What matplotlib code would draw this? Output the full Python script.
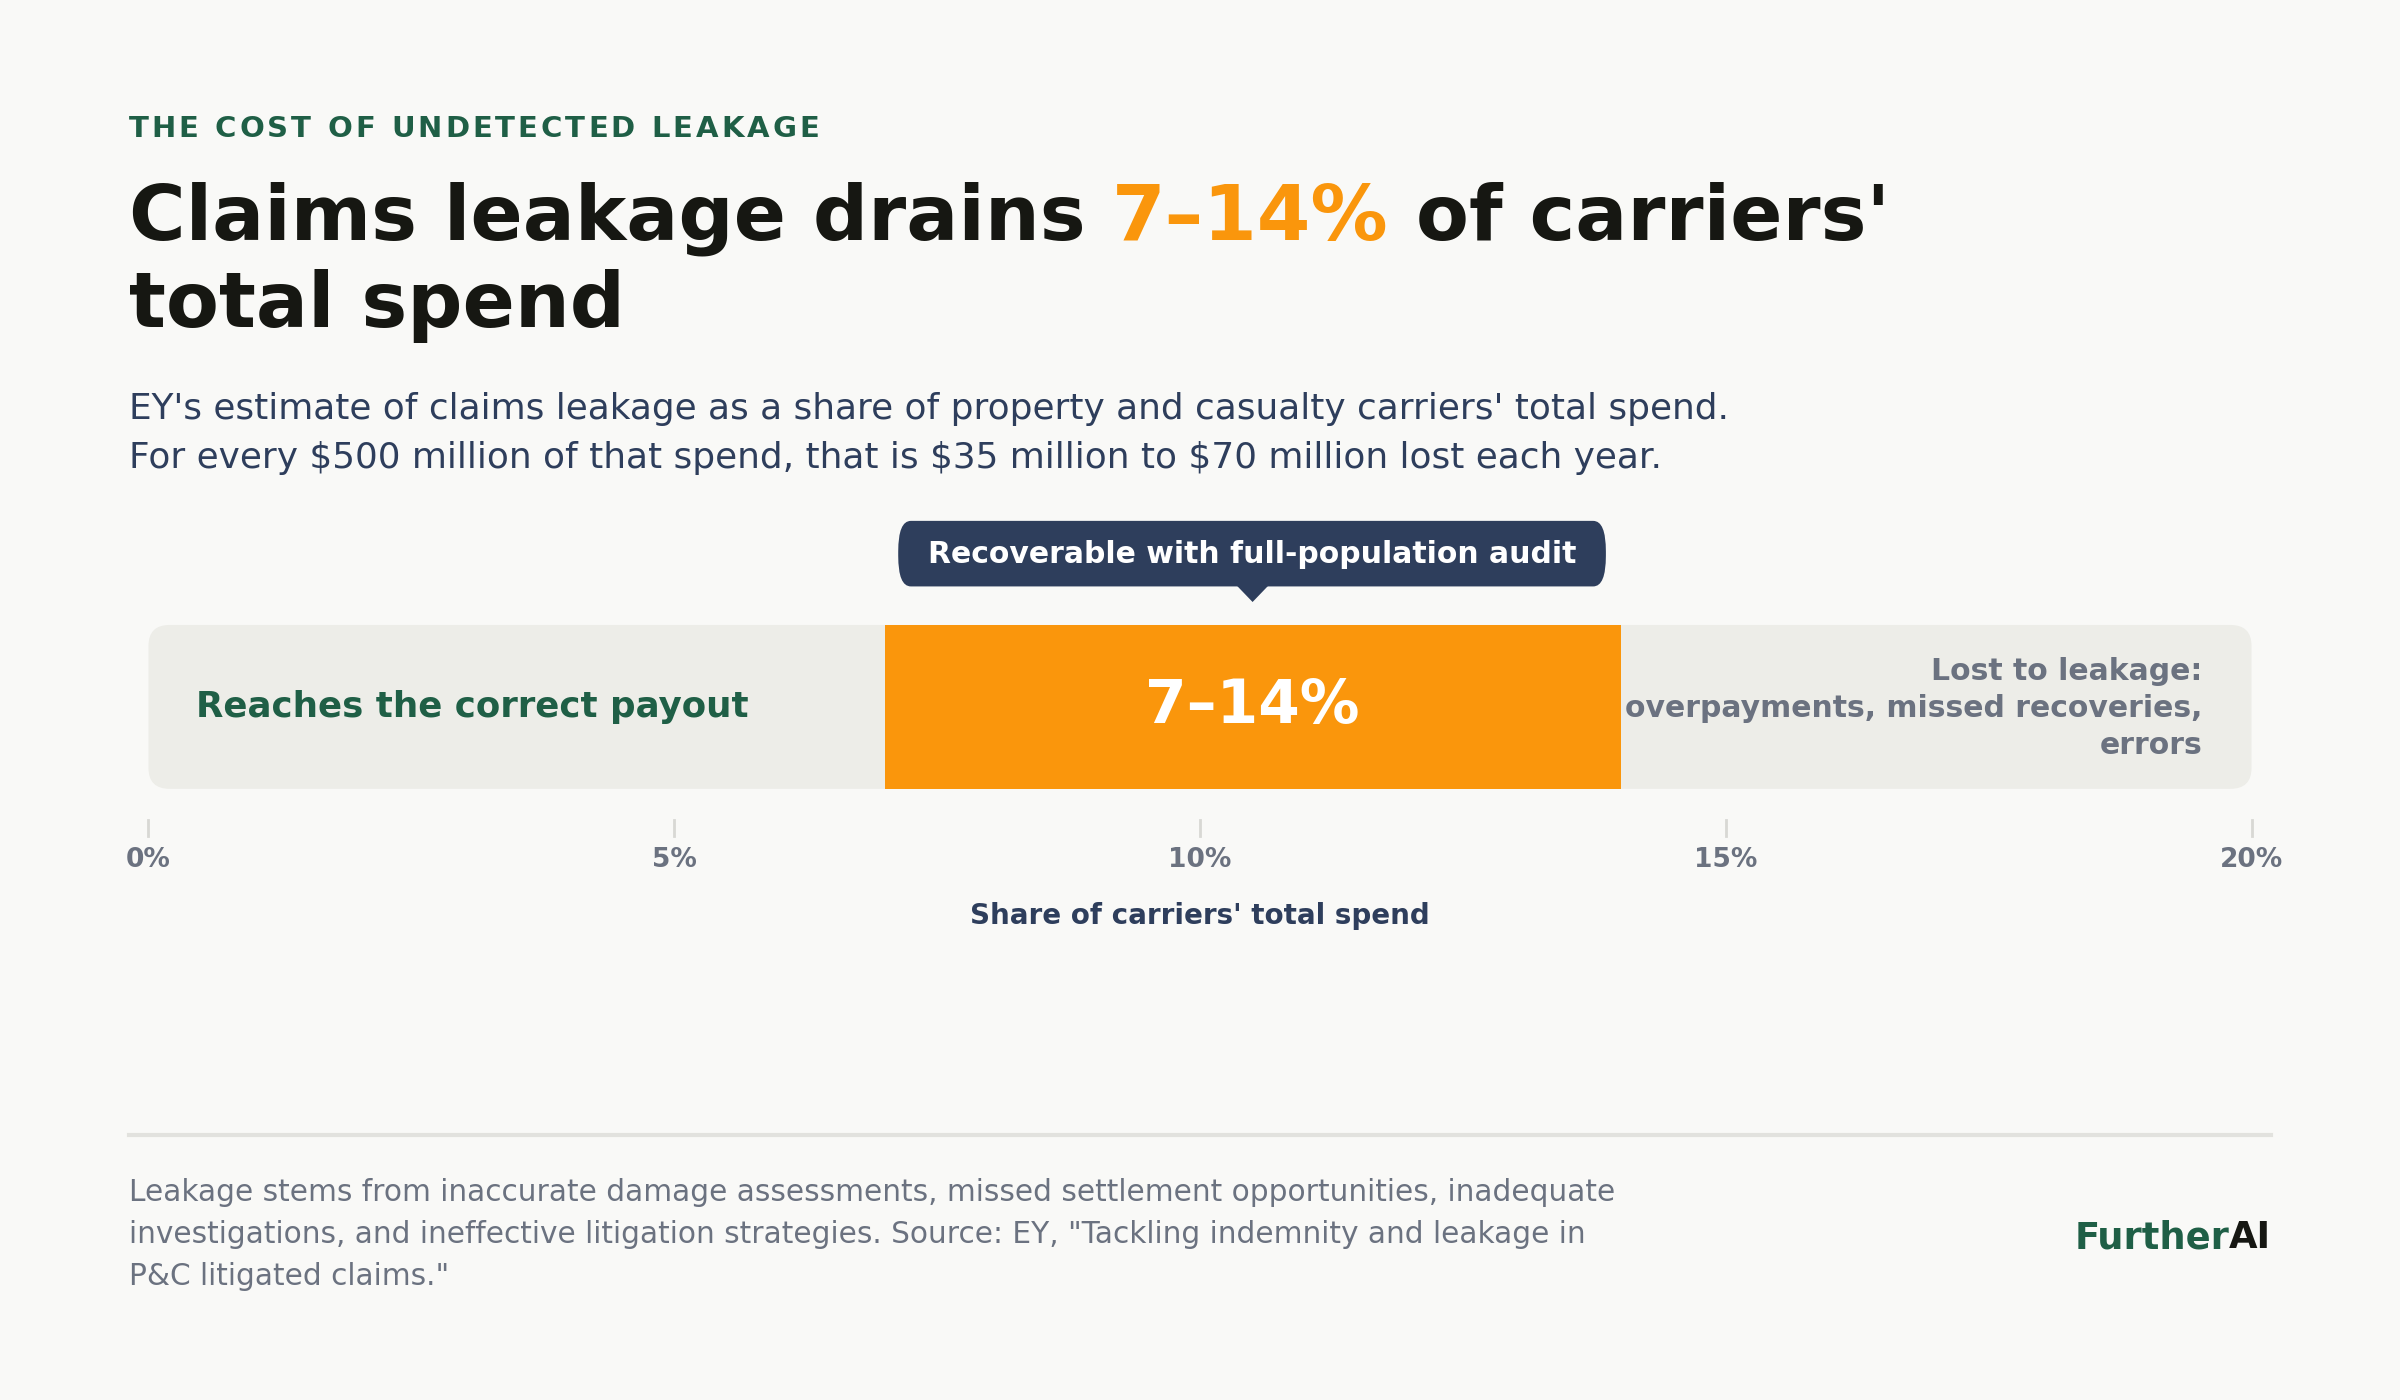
import matplotlib
matplotlib.use("Agg")
import matplotlib.pyplot as plt
from matplotlib.patches import FancyBboxPatch, Rectangle, Polygon

# data
axis_max = 20
ticks = [0, 5, 10, 15, 20]
tick_labels = ["0%", "5%", "10%", "15%", "20%"]
leak_low, leak_high = 7, 14
leak_label = "7–14%"

BG = "#F9F9F7"
GREEN = "#1F5F46"
ORANGE = "#FA960C"
NAVY = "#2E3E5C"
GREY = "#6B7280"
TRACK = "#EDEDE8"

plt.rcParams['font.family'] = ['DejaVu Sans']
fig = plt.figure(figsize=(24, 14), dpi=100, facecolor=BG)
W, H = 1568, 914  # reference layout units
r = fig.canvas.get_renderer()

def fx(x): return x / W
def fy(y): return 1 - y / H

# kicker with letter spacing
x = fx(84)
for ch in "THE COST OF UNDETECTED LEAKAGE":
    t = fig.text(x, fy(84), ch, color=GREEN, fontsize=21, fontweight="bold", va="center", ha="left")
    w = t.get_window_extent(r).width if ch != " " else 21 * 100 / 72 * 0.35
    x += (w + 3.0) / fig.bbox.width

# title with highlighted span
x = fx(84)
for part, col in [("Claims leakage drains ", "#161712"), ("7–14%", ORANGE), (" of carriers'", "#161712")]:
    t = fig.text(x, fy(143), part, color=col, fontsize=55.5, fontweight="bold", va="center", ha="left")
    x += t.get_window_extent(r).width / fig.bbox.width
fig.text(fx(84), fy(200), "total spend", color="#161712", fontsize=55.5, fontweight="bold", va="center")

fig.text(fx(84), fy(267), "EY's estimate of claims leakage as a share of property and casualty carriers' total spend.",
         color=NAVY, fontsize=25.8, va="center")
fig.text(fx(84), fy(299), "For every $500 million of that spend, that is $35 million to $70 million lost each year.",
         color=NAVY, fontsize=25.8, va="center")

ax = fig.add_axes([fx(97), fy(515), fx(1471 - 97), (515 - 408) / H])
ax.set_facecolor("none")
ax.set_xlim(0, axis_max)
ax.set_ylim(0, 1)
ax.add_patch(FancyBboxPatch((0, 0), axis_max, 1, boxstyle="round,pad=0,rounding_size=0.2",
                            mutation_aspect=0.64, fc=TRACK, ec="none", clip_on=False))
ax.add_patch(Rectangle((leak_low, 0), leak_high - leak_low, 1, fc=ORANGE, ec="none"))
ax.text((leak_low + leak_high) / 2, 0.5, leak_label, color="white", fontsize=43, fontweight="bold",
        ha="center", va="center")
ax.text(0.45, 0.5, "Reaches the correct payout", color=GREEN, fontsize=25.7, fontweight="bold", va="center")
ax.text(19.53, 0.49, "Lost to leakage:\noverpayments, missed recoveries,\nerrors", color=GREY, fontsize=21.5,
        fontweight="bold", va="center", ha="right", linespacing=1.33)

# callout
mid = (leak_low + leak_high) / 2
ax.add_patch(FancyBboxPatch((7.13, 1.235), 6.73, 0.40, boxstyle="round,pad=0,rounding_size=0.12",
                            mutation_aspect=1.55, fc=NAVY, ec="none", clip_on=False))
ax.add_patch(Polygon([(mid - 0.15, 1.24), (mid + 0.15, 1.24), (mid, 1.14)], fc=NAVY, ec="none", clip_on=False))
ax.text(mid, 1.43, "Recoverable with full-population audit", color="white", fontsize=21.5, fontweight="bold",
        ha="center", va="center")

for s in ax.spines.values():
    s.set_visible(False)
ax.set_yticks([])
ax.set_xticks(ticks)
ax.set_xticklabels(tick_labels, color=GREY, fontsize=19, fontweight="bold")
ax.tick_params(axis="x", length=0, pad=42)
for tk in ticks:
    ax.plot([tk, tk], [-0.19, -0.29], color="#D8D8D4", lw=2, clip_on=False)
ax.set_xlabel("Share of carriers' total spend", color=NAVY, fontsize=20, fontweight="bold", labelpad=21)

fig.add_artist(plt.Line2D([fx(84), fx(1484)], [fy(741), fy(741)], color="#E2E2DE", lw=3))
fig.text(fx(84), fy(806), "Leakage stems from inaccurate damage assessments, missed settlement opportunities, inadequate\n"
         "investigations, and ineffective litigation strategies. Source: EY, \"Tackling indemnity and leakage in\n"
         "P&C litigated claims.\"", color=GREY, fontsize=21.3, va="center", linespacing=1.55)
ai = fig.text(fx(1484), fy(808), "AI", color="#161712", fontsize=26.6, fontweight="bold", ha="right", va="center")
bb = ai.get_window_extent(r)
fig.text(bb.x0 / fig.bbox.width, fy(808), "Further", color=GREEN, fontsize=26.6, fontweight="bold",
         ha="right", va="center")

fig.savefig("out.png", dpi=100, facecolor=BG)
